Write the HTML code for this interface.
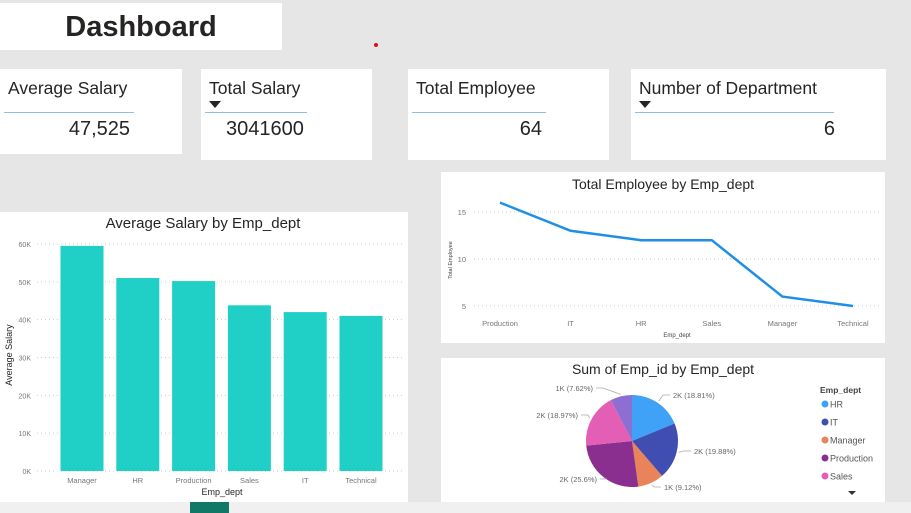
<!DOCTYPE html>
<html><head><meta charset="utf-8">
<style>
body{margin:0;width:911px;height:513px;overflow:hidden;background:#e6e6e6;font-family:"Liberation Sans",sans-serif;position:relative}
.card{position:absolute;background:#fff}
.t{position:absolute;font-size:17.5px;color:#252423;white-space:nowrap}
.ln{position:absolute;height:1px;background:#8fbfe3}
.v{position:absolute;font-size:20px;color:#252423;white-space:nowrap}
.tri{position:absolute;width:0;height:0;border-left:6px solid transparent;border-right:6px solid transparent;border-top:7px solid #252423}
svg{position:absolute;left:0;top:0}
</style></head><body>
<div class="card" style="left:0;top:3px;width:282px;height:47px">
  <div style="position:absolute;left:0;width:282px;top:8px;text-align:center;font-size:29px;font-weight:bold;color:#252423">Dashboard</div>
</div>
<div style="position:absolute;left:374px;top:43px;width:4px;height:4px;border-radius:2px;background:#d11"></div>

<div class="card" style="left:0;top:69px;width:182px;height:85px">
  <div class="t" style="left:8px;top:9px">Average Salary</div>
  <div class="ln" style="left:4px;top:43px;width:130px"></div>
  <div class="v" style="right:52px;top:49px">47,525</div>
</div>
<div class="card" style="left:201px;top:69px;width:171px;height:91px">
  <div class="t" style="left:8px;top:9px">Total Salary</div>
  <div class="tri" style="left:8px;top:32px"></div>
  <div class="ln" style="left:4px;top:43px;width:102px"></div>
  <div class="v" style="left:25px;top:49px">3041600</div>
</div>
<div class="card" style="left:408px;top:69px;width:201px;height:91px">
  <div class="t" style="left:8px;top:9px">Total Employee</div>
  <div class="ln" style="left:4px;top:43px;width:134px"></div>
  <div class="v" style="right:67px;top:49px">64</div>
</div>
<div class="card" style="left:631px;top:69px;width:255px;height:91px">
  <div class="t" style="left:8px;top:9px">Number of Department</div>
  <div class="tri" style="left:8px;top:32px"></div>
  <div class="ln" style="left:4px;top:43px;width:199px"></div>
  <div class="v" style="right:51px;top:49px">6</div>
</div>

<div class="card" style="left:0;top:212px;width:408px;height:290px"></div>
<div class="card" style="left:441px;top:172px;width:444px;height:171px"></div>
<div class="card" style="left:441px;top:358px;width:444px;height:144px"></div>

<div style="position:absolute;left:0;top:502px;width:911px;height:11px;background:#f0f0f0"></div>
<div style="position:absolute;left:190px;top:502px;width:39px;height:11px;background:#117865"></div>

<svg id="s" width="911" height="513" xmlns="http://www.w3.org/2000/svg" font-family="Liberation Sans, sans-serif"></svg>
<script>
const barCats=["Manager","HR","Production","Sales","IT","Technical"];
const barVals=[59500,51000,50200,43800,42000,41000];
const barTicks=[0,10000,20000,30000,40000,50000,60000];
const barTickLabels=["0K","10K","20K","30K","40K","50K","60K"];

const lineCats=["Production","IT","HR","Sales","Manager","Technical"];
const lineVals=[16,13,12,12,6,5];
const lineTicks=[5,10,15];

const pieCats=["HR","IT","Manager","Production","Sales","Technical"];
const piePct=[18.81,19.88,9.12,25.6,18.97,7.62];
const pieLabels=["2K (18.81%)","2K (19.88%)","1K (9.12%)","2K (25.6%)","2K (18.97%)","1K (7.62%)"];
const pieColors=["#3fa2f7","#3f4eb0","#e8835a","#8a2f8f","#e35fb5","#8d6fd1"];

const s=document.getElementById('s');
const NS="http://www.w3.org/2000/svg";
function mk(tag,a,txt){const e=document.createElementNS(NS,tag);for(const k in a)e.setAttribute(k,a[k]);if(txt!==undefined)e.textContent=txt;s.appendChild(e);return e;}

// ---- Bar chart ----
let t=mk('text',{x:203,y:228,'text-anchor':'middle','font-size':15,fill:'#252423'},'Average Salary by Emp_dept');


const by=v=>471-v*(227/60000);
const bx=i=>82+i*55.8;
barTicks.forEach((v,i)=>{
  const g=mk('line',{x1:37,x2:404,y1:by(v),y2:by(v),stroke:'#ccc','stroke-dasharray':'1 3'});
  
  
  const l=mk('text',{x:31,y:by(v)+3,'text-anchor':'end','font-size':7,fill:'#777'},barTickLabels[i]);
  
  
});
barCats.forEach((c,i)=>{
  const r=mk('rect',{x:bx(i)-21.5,y:by(barVals[i]),width:43,height:471-by(barVals[i]),fill:'#20cfc6'});
  
  
  const l=mk('text',{x:bx(i),y:483,'text-anchor':'middle','font-size':7.5,fill:'#777'},c);
  
  
});
t=mk('text',{x:222,y:495,'text-anchor':'middle','font-size':9,fill:'#252423'},'Emp_dept');


t=mk('text',{x:0,y:0,'text-anchor':'middle','font-size':9,fill:'#252423',transform:'translate(12,355) rotate(-90)'},'Average Salary');



// ---- Line chart ----
t=mk('text',{x:663,y:189,'text-anchor':'middle','font-size':14,fill:'#252423'},'Total Employee by Emp_dept');


const ly=v=>306-(v-5)*(94/10);
const lx=i=>500+i*70.6;
lineTicks.forEach(v=>{
  const g=mk('line',{x1:474,x2:880,y1:ly(v),y2:ly(v),stroke:'#ccc','stroke-dasharray':'1 3'});
  
  
  const l=mk('text',{x:466,y:ly(v)+3,'text-anchor':'end','font-size':7.5,fill:'#777'},String(v));
  
  
});
lineCats.forEach((c,i)=>{
  const l=mk('text',{x:lx(i),y:326,'text-anchor':'middle','font-size':7.5,fill:'#777'},c);
  
  
});
const pl=mk('polyline',{points:lineVals.map((v,i)=>lx(i)+','+ly(v)).join(' '),fill:'none',stroke:'#1f8fe6','stroke-width':2.5});


t=mk('text',{x:677,y:337,'text-anchor':'middle','font-size':6,fill:'#444'},'Emp_dept');


t=mk('text',{x:0,y:0,'text-anchor':'middle','font-size':5.5,fill:'#444',transform:'translate(452,260) rotate(-90)'},'Total Employee');



// ---- Pie chart ----
t=mk('text',{x:663,y:374,'text-anchor':'middle','font-size':14,fill:'#252423'},'Sum of Emp_id by Emp_dept');


const cx=632,cy=441,R=46;
const tot=piePct.reduce((a,b)=>a+b,0);
let ang=0;
const lblPos=[[673,398,'start'],[694,454,'start'],[664,490,'start'],[597,482,'end'],[578,418,'end'],[593,391,'end']];
piePct.forEach((p,i)=>{
  const a0=ang,a1=ang+p/tot*2*Math.PI;ang=a1;
  const x0=cx+R*Math.sin(a0),y0=cy-R*Math.cos(a0),x1=cx+R*Math.sin(a1),y1=cy-R*Math.cos(a1);
  const large=(a1-a0)>Math.PI?1:0;
  const sl=mk('path',{d:`M${cx},${cy} L${x0},${y0} A${R},${R} 0 ${large} 1 ${x1},${y1} Z`,fill:pieColors[i]});
  
  
  const am=(a0+a1)/2;
  const ex=cx+(R+2)*Math.sin(am),ey=cy-(R+2)*Math.cos(am);
  const [lxp,lyp,anc]=lblPos[i];
  mk('polyline',{points:`${ex},${ey} ${anc==='start'?lxp-10:lxp+10},${lyp-3} ${anc==='start'?lxp-3:lxp+3},${lyp-3}`,fill:'none',stroke:'#aaa','stroke-width':0.8});
  const l=mk('text',{x:lxp,y:lyp,'text-anchor':anc,'font-size':7.5,fill:'#666'},pieLabels[i]);
  
  
});
t=mk('text',{x:820,y:393,'font-size':8.5,'font-weight':'bold',fill:'#444'},'Emp_dept');


pieCats.slice(0,5).forEach((c,i)=>{
  const y=404+i*18;
  const d=mk('circle',{cx:825,cy:y,r:3.5,fill:pieColors[i]});
  
  
  const l=mk('text',{x:830,y:y+3.5,'font-size':9,fill:'#555'},c);
  
  
});
const ar=mk('path',{d:'M848,491 L856,491 L852,495 Z',fill:'#333'});


</script>
</body></html>
